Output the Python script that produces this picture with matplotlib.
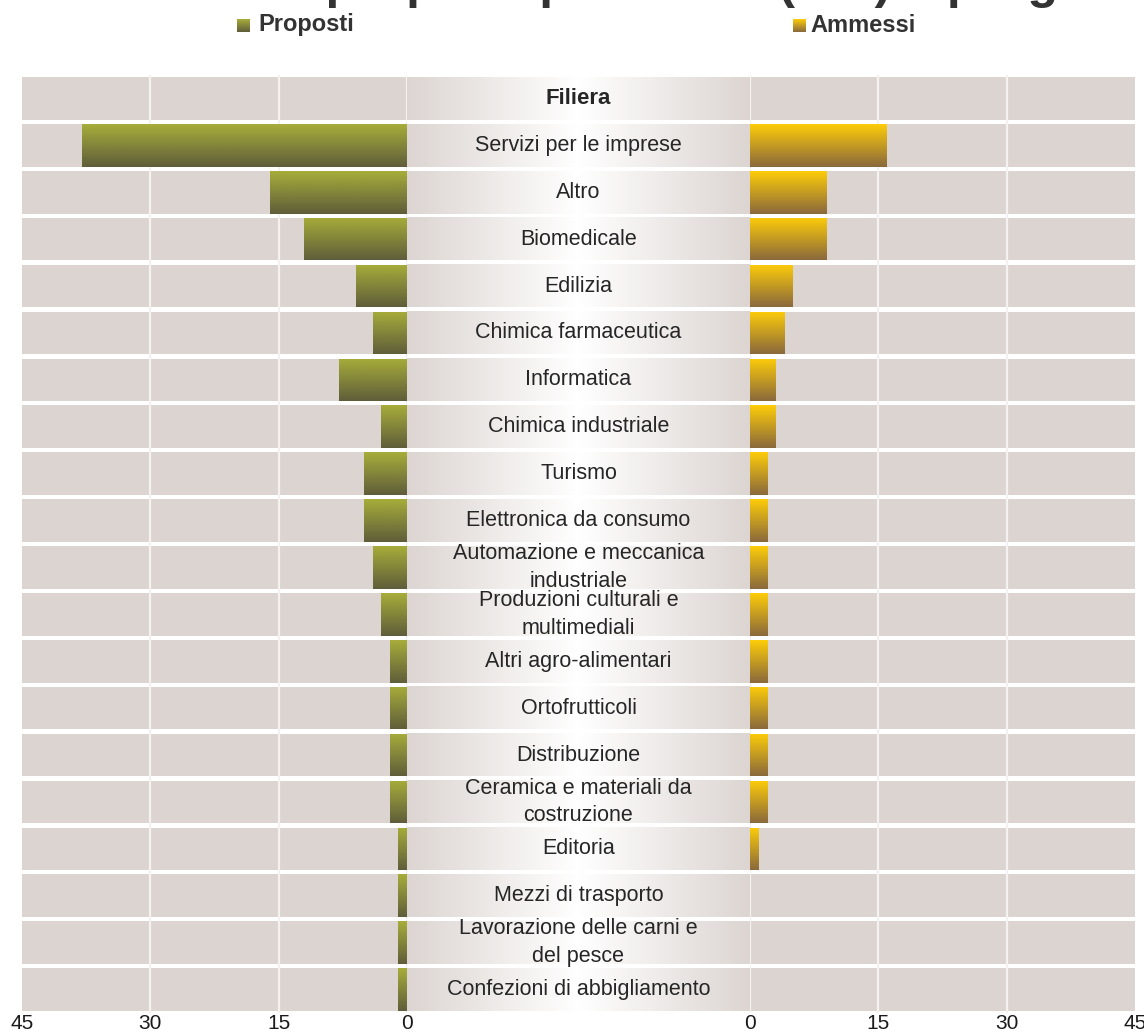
import numpy as np
import matplotlib
matplotlib.use('Agg')
import matplotlib.pyplot as plt
from matplotlib.colors import LinearSegmentedColormap

plt.rcParams['font.family'] = ['Liberation Sans', 'DejaVu Sans']

# dati
categorie = ['Servizi per le imprese', 'Altro', 'Biomedicale', 'Edilizia',
             'Chimica farmaceutica', 'Informatica', 'Chimica industriale', 'Turismo',
             'Elettronica da consumo', 'Automazione e meccanica\nindustriale',
             'Produzioni culturali e\nmultimediali', 'Altri agro-alimentari',
             'Ortofrutticoli', 'Distribuzione', 'Ceramica e materiali da\ncostruzione',
             'Editoria', 'Mezzi di trasporto', 'Lavorazione delle carni e\ndel pesce',
             'Confezioni di abbigliamento']
proposti = [38, 16, 12, 6, 4, 8, 3, 5, 5, 4, 3, 2, 2, 2, 2, 1, 1, 1, 1]
ammessi = [16, 9, 9, 5, 4, 3, 3, 2, 2, 2, 2, 2, 2, 2, 2, 1, 0, 0, 0]
tick_vals = [0, 15, 30, 45]
intestazione = 'Filiera'
titolo = 'Totale proposti per filiera (v.a.) e progetti ammessi'

W, H = 1144, 1034
fig = plt.figure(figsize=(W / 100, H / 100), dpi=100)
fig.patch.set_facecolor('white')

cella = '#DCD4D1'
testo = '#262626'
cmap_prop = LinearSegmentedColormap.from_list('prop', ['#5F5E3A', '#A7AC3A'])
cmap_amm = LinearSegmentedColormap.from_list('amm', ['#8A693C', '#FDCC0A'])
cmap_mid = LinearSegmentedColormap.from_list('mid', ['#FFFFFF', '#DCD5D2'])

n = len(categorie) + 1
y_head = n - 1
y_cat = np.arange(len(categorie))[::-1]
h = 0.91
vgrad = np.linspace(0, 1, 64).reshape(-1, 1)

axL = fig.add_axes([22 / W, 21 / H, 385 / W, 938 / H])
axM = fig.add_axes([407 / W, 21 / H, 343 / W, 938 / H])
axR = fig.add_axes([750 / W, 21 / H, 385 / W, 938 / H])


def pannello(ax, valori, cmap, invert):
    righe = np.arange(n)
    ax.barh(righe, 45, height=h, color=cella, zorder=1)
    for t in tick_vals[:-1]:
        ax.axvline(t, color='#F4F2F1', lw=1.6, zorder=2)
    barre = ax.barh(y_cat, valori, height=h, color='none', zorder=3)
    for b in barre:
        bb = b.get_bbox()
        if bb.width <= 0:
            continue
        im = ax.imshow(vgrad, cmap=cmap, origin='lower', aspect='auto',
                       extent=(bb.x0, bb.x1, bb.y0, bb.y1), zorder=3)
        im.set_clip_path(b)
    ax.set_xlim((45, 0) if invert else (0, 45))
    ax.set_ylim(-0.5, n - 0.5)
    ax.set_xticks(tick_vals)
    ax.set_yticks([])
    ax.tick_params(axis='x', length=0, labelsize=15, pad=1, colors='#1A1A1A')
    for s in ax.spines.values():
        s.set_visible(False)
    ax.set_facecolor('white')


pannello(axL, proposti, cmap_prop, True)
pannello(axR, ammessi, cmap_amm, False)

# colonna centrale con sfumatura
hgrad = np.abs(np.linspace(-1, 1, 256)).reshape(1, -1)
for y in range(n):
    axM.imshow(hgrad, cmap=cmap_mid, origin='lower', aspect='auto',
               extent=(0, 1, y - h / 2, y + h / 2), zorder=1)
for y, lab in zip(y_cat, categorie):
    axM.text(0.5, y, lab, ha='center', va='center', fontsize=15.5,
             color=testo, linespacing=1.42, zorder=4)
axM.text(0.5, y_head, intestazione, ha='center', va='center', fontsize=16,
         fontweight='bold', color=testo, zorder=4)
axM.set_xlim(0, 1)
axM.set_ylim(-0.5, n - 0.5)
axM.axis('off')

# titolo (tagliato in alto come nell'originale)
fig.text(168 / W, 1 + 2 / H, titolo, fontsize=36, fontweight='bold',
         color='#333333', ha='left', va='baseline')

# legenda
for x_sq, x_txt, nome, cm in [(237, 258, 'Proposti', cmap_prop), (793, 810, 'Ammessi', cmap_amm)]:
    axq = fig.add_axes([x_sq / W, 1 - 32 / H, 13 / W, 13 / H])
    axq.imshow(vgrad, cmap=cm, origin='lower', aspect='auto')
    axq.axis('off')
    fig.text(x_txt / W, 1 - 25 / H, nome, fontsize=17, fontweight='bold',
             color='#333333', ha='left', va='center')

fig.savefig('out.png', dpi=100, facecolor='white')
